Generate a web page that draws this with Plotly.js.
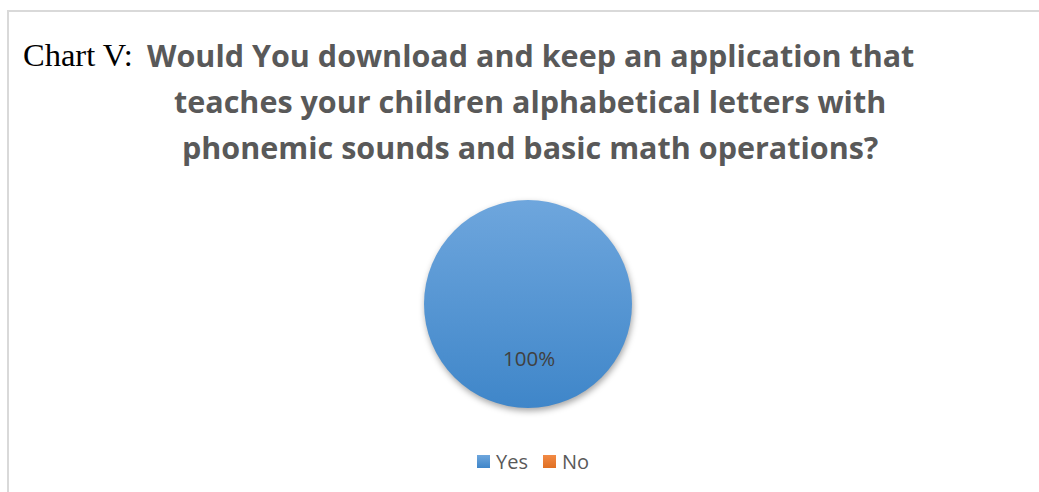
<!DOCTYPE html>
<html>
<head>
<meta charset="utf-8">
<script src="https://cdn.plot.ly/plotly-3.0.1.min.js"></script>
<style>
html,body{margin:0;padding:0;background:#fff;overflow:hidden;width:1039px;height:492px;}
#frame{position:absolute;left:7px;top:10px;width:1100px;height:600px;border:2px solid #d9d9d9;box-sizing:border-box;}
#chart{position:absolute;left:0;top:0;width:1039px;height:492px;}
.pielayer path.surface{filter:drop-shadow(1px 3px 3px rgba(0,0,0,0.35));}
</style>
</head>
<body>
<div id="frame"></div>
<div id="chart"></div>
<script>
const categories = ["Yes", "No"];
const values = [100, 0];
const colors = ["#5899d8", "#ed7d31"];
const gradTop = ["#6ea6dd", "#f28a45"];
const gradBottom = ["#3f86c9", "#e06f22"];
const titlePrefix = "Chart V:";
const titleLines = [
  "Would You download and keep an application that",
  "teaches your children alphabetical letters with",
  "phonemic sounds and basic math operations?"
];

const total = values.reduce((a, b) => a + b, 0);
const pctText = Math.round(values[0] / total * 100) + "%";

const W = 1039, H = 492;
const py = v => 1 - v / H;
const px = v => v / W;

const annotations = [];
titleLines.forEach((t, i) => {
  annotations.push({
    text: "<b>" + t + "</b>", xref: "paper", yref: "paper",
    x: px(530), y: py(55 + i * 46), xanchor: "center", yanchor: "middle",
    showarrow: false,
    font: {family: "Open Sans, sans-serif", size: 30.5, color: "#595959"}
  });
});
annotations.push({
  text: titlePrefix, xref: "paper", yref: "paper",
  x: px(21), y: py(55), xanchor: "left", yanchor: "middle",
  showarrow: false,
  font: {family: "Liberation Serif, serif", size: 32.5, color: "#000000"}
});
annotations.push({
  text: pctText, xref: "paper", yref: "paper",
  x: px(529), y: py(358), xanchor: "center", yanchor: "middle",
  showarrow: false,
  font: {family: "Open Sans, sans-serif", size: 20.5, color: "#404040"}
});

// manual legend
const legendSquares = [477, 543];
const legendText = [496, 562];
const shapes = [];
categories.forEach((c, i) => {
  shapes.push({
    type: "rect", xref: "paper", yref: "paper",
    x0: px(legendSquares[i]), x1: px(legendSquares[i] + 13),
    y0: py(468), y1: py(455),
    fillcolor: colors[i], line: {width: 0}
  });
  annotations.push({
    text: c, xref: "paper", yref: "paper",
    x: px(legendText[i]), y: py(461), xanchor: "left", yanchor: "middle",
    showarrow: false, xshift: -2,
    font: {family: "Open Sans, sans-serif", size: 20, color: "#595959"}
  });
});

const data = [{
  type: "pie",
  labels: categories,
  values: values,
  marker: {colors: colors, line: {width: 0}},
  textinfo: "none",
  hoverinfo: "label+percent",
  sort: false,
  direction: "clockwise",
  showlegend: false,
  domain: {x: [px(528 - 104), px(528 + 104)], y: [(H - 304 - 104) / H, (H - 304 + 104) / H]}
}];

const layout = {
  width: W, height: H,
  margin: {l: 0, r: 0, t: 0, b: 0},
  paper_bgcolor: "rgba(0,0,0,0)",
  plot_bgcolor: "rgba(0,0,0,0)",
  showlegend: false,
  shapes: shapes,
  annotations: annotations
};

Plotly.newPlot("chart", data, layout, {displayModeBar: false, staticPlot: true}).then(gd => {
  const svg = gd.querySelector("svg.main-svg");
  const ns = "http://www.w3.org/2000/svg";
  let defs = svg.querySelector("defs");
  if (!defs) { defs = document.createElementNS(ns, "defs"); svg.insertBefore(defs, svg.firstChild); }
  categories.forEach((c, i) => {
    const g = document.createElementNS(ns, "linearGradient");
    g.setAttribute("id", "grad" + i);
    g.setAttribute("x1", "0"); g.setAttribute("y1", "0");
    g.setAttribute("x2", "0"); g.setAttribute("y2", "1");
    const s1 = document.createElementNS(ns, "stop");
    s1.setAttribute("offset", "0"); s1.setAttribute("stop-color", gradTop[i]);
    const s2 = document.createElementNS(ns, "stop");
    s2.setAttribute("offset", "1"); s2.setAttribute("stop-color", gradBottom[i]);
    g.appendChild(s1); g.appendChild(s2); defs.appendChild(g);
  });
  gd.querySelectorAll(".pielayer path.surface").forEach((p, i) => {
    p.style.fill = "url(#grad" + i + ")";
  });
  gd.querySelectorAll(".shapelayer path").forEach((p, i) => {
    p.style.fill = "url(#grad" + (i % categories.length) + ")";
  });
});
</script>
</body>
</html>
